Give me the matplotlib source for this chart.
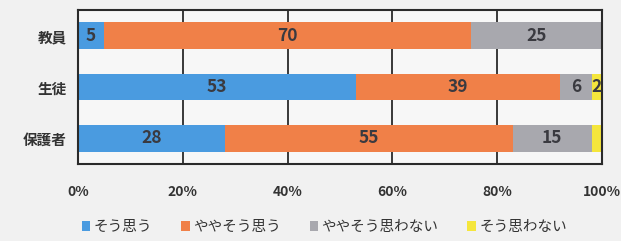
import numpy as np
import matplotlib.pyplot as plt

plt.rcParams['font.family'] = ['Noto Sans CJK JP', 'DejaVu Sans']

groups = ['教員', '生徒', '保護者']
series = ['そう思う', 'ややそう思う', 'ややそう思わない', 'そう思わない']
values = [
    [5, 53, 28],
    [70, 39, 55],
    [25, 6, 15],
    [0, 2, 2],
]
labels = [
    ['5', '53', '28'],
    ['70', '39', '55'],
    ['25', '6', '15'],
    ['', '2', ''],
]
colors = ['#4a9be0', '#f08048', '#a8a8ae', '#f5e63c']
xticks = [0, 20, 40, 60, 80, 100]

fig = plt.figure(figsize=(6.21, 2.41), dpi=100, facecolor='#f1f1f1')
ax = fig.add_axes([78 / 621, 1 - 164 / 241, 524 / 621, 154 / 241])
ax.set_facecolor('#f7f7f7')

y = np.arange(len(groups))
left = np.zeros(len(groups))
for i, s in enumerate(series):
    v = np.array(values[i], dtype=float)
    ax.barh(y, v, left=left, height=0.52, color=colors[i], label=s, zorder=2)
    for j in range(len(groups)):
        if labels[i][j]:
            ax.text(left[j] + v[j] / 2, y[j], labels[i][j], ha='center', va='center',
                    fontsize=12.5, fontweight='bold', color='#3a3a40', zorder=3)
    left += v

ax.set_xlim(0, 100)
ax.set_ylim(2.5, -0.5)
ax.set_yticks(y)
ax.set_yticklabels(groups, fontsize=10.5, fontweight='bold', color='#333333')
ax.set_xticks(xticks)
ax.set_xticklabels([f'{t}%' for t in xticks], fontsize=10, fontweight='bold', color='#333333')
ax.tick_params(axis='y', length=0, pad=8)
ax.tick_params(axis='x', length=0, pad=15)
ax.grid(axis='x', color='#2a2a2a', linewidth=1.3, zorder=1)
for sp in ax.spines.values():
    sp.set_color('#2a2a2a')
    sp.set_linewidth(1.5)

ax.legend(loc='center', bbox_to_anchor=(0.47, -0.41), ncol=4, frameon=False,
          fontsize=10.5, handlelength=0.6, handleheight=0.6, handletextpad=0.2,
          columnspacing=2.0, labelcolor='#333333')

fig.savefig('out.png', dpi=100, facecolor=fig.get_facecolor())
